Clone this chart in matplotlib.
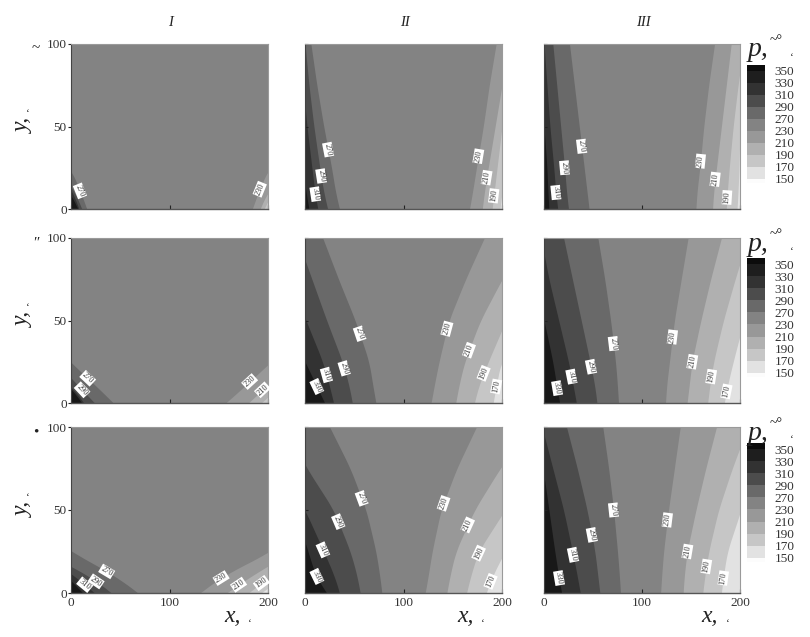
import matplotlib

matplotlib.use('Agg')
import matplotlib.pyplot as plt
import numpy as np

W, H = 810, 637

Y_READ = [0, 10, 25, 50, 75, 100]

LEFT_LEVELS = ['270', '290', '310', '330']
RIGHT_LEVELS = ['230', '210', '190', '170']

# each boundary: x at Y_READ. left ones run from 270 outwards, right from 230
A1_LEFT = [[16, 10, -1, -40, -80, -120], [11, 4, -12, -60, -100, -140], [8, 2, -14, -60, -100, -140], [7, -1, -20, -60, -100, -140]]
A1_LEFT_LABEL_Y = [11, None, None, None]
A1_RIGHT = [[184, 190, 201, 240, 280, 320], [192, 199, 220, 260, 300, 340], [196, 204, 225, 270, 310, 350]]
A1_RIGHT_LABEL_Y = [12, None, None]

A2_LEFT = [[35, 31, 27, 19, 12, 6], [23, 19, 15, 9, 4, 0], [13, 10, 7, 2, -2, -5], [4, 1, -2, -6, -10, -14]]
A2_LEFT_LABEL_Y = [36, 20, 9, None]
A2_RIGHT = [[167, 170, 174, 181, 187, 194], [180, 182, 186, 193, 200, 207], [190, 192, 195, 200, 205, 210], [198, 200, 203, 208, 213, 218]]
A2_RIGHT_LABEL_Y = [32, 19, 8, None]

A3_LEFT = [[46, 44, 41, 36, 31, 26], [25, 23, 21, 17, 13, 9], [14, 12, 10, 6, 3, 0], [5, 4, 3, 0, -3, -5]]
A3_LEFT_LABEL_Y = [38, 25, 10, None]
A3_RIGHT = [[155, 156, 159, 163, 168, 174], [172, 173, 176, 181, 186, 191], [186, 187, 189, 193, 198, 204], [197, 198, 199, 200, 201, 202]]
A3_RIGHT_LABEL_Y = [29, 18, 7, None]

B1_LEFT = [[43, 26, -1, -40, -80, -120], [24, 8, -15, -60, -100, -140], [13, 1, -30, -80, -120, -160], [11, -1, -30, -80, -120, -160]]
B1_LEFT_LABEL_Y = [15, 8, None, None]
B1_RIGHT = [[157, 176, 203, 250, 300, 350], [180, 198, 225, 270, 320, 370], [193, 212, 240, 290, 340, 390]]
B1_RIGHT_LABEL_Y = [13, 8, None]

B2_LEFT = [[72, 69, 65, 51, 34, 18], [48, 45, 38, 22, 7, -8], [29, 25, 18, 1, -15, -30], [20, 12, 0, -20, -40, -60]]
B2_LEFT_LABEL_Y = [42, 21, 17, 10]
B2_RIGHT = [[128, 131, 136, 146, 163, 182], [153, 156, 162, 178, 200, 225], [172, 176, 186, 204, 230, 255], [191, 194, 199, 225, 250, 275]]
B2_RIGHT_LABEL_Y = [45, 32, 18, 10]

B3_LEFT = [[76, 75, 73, 68, 62, 55], [54, 52, 47, 38, 29, 20], [33, 30, 25, 15, 5, -3], [16, 13, 9, 0, -8, -15]]
B3_LEFT_LABEL_Y = [36, 22, 16, 9]
B3_RIGHT = [[124, 125, 128, 133, 140, 147], [146, 148, 151, 160, 170, 181], [167, 169, 173, 183, 195, 208], [184, 187, 193, 204, 216, 228]]
B3_RIGHT_LABEL_Y = [40, 25, 16, 7]

C1_LEFT = [[68, 46, 0, -60, -120, -180], [41, 20, -30, -80, -130, -180], [24, 4, -30, -80, -130, -180], [12, -4, -30, -80, -130, -180]]
C1_LEFT_LABEL_Y = [13, 7, 5, None]
C1_RIGHT = [[131, 153, 203, 260, 320, 380], [158, 182, 225, 280, 340, 400], [180, 202, 240, 300, 360, 420], [193, 216, 250, 310, 370, 430]]
C1_RIGHT_LABEL_Y = [9, 5, 6, None]

C2_LEFT = [[78, 76, 72, 62, 46, 25], [56, 53, 46, 29, 2, -20], [35, 30, 19, 0, -25, -50], [22, 11, 3, -10, -30, -50]]
C2_LEFT_LABEL_Y = [57, 43, 26, 10]
C2_RIGHT = [[122, 125, 129, 138, 154, 174], [144, 147, 153, 172, 198, 228], [164, 168, 176, 203, 233, 263], [184, 190, 203, 230, 260, 290]]
C2_RIGHT_LABEL_Y = [54, 41, 24, 7]

C3_LEFT = [[78, 77, 75, 71, 66, 60], [57, 55, 52, 44, 34, 23], [37, 34, 29, 20, 9, -2], [18, 15, 11, 5, -1, -8]]
C3_LEFT_LABEL_Y = [50, 35, 23, 9]
C3_RIGHT = [[119, 120, 122, 127, 133, 139], [142, 143, 146, 155, 165, 176], [162, 164, 168, 178, 192, 208], [181, 183, 187, 201, 213, 225]]
C3_RIGHT_LABEL_Y = [44, 25, 16, 9]

# grey levels: middle band, then outwards on each side
MID_GREY = 131
LEFT_GREYS = [105, 76, 50, 24]
RIGHT_GREYS = [152, 176, 198, 226]

CBAR_LABELS = ['150', '170', '190', '210', '230', '270', '290', '310', '330', '350']
CBAR_GREYS = [252, 226, 198, 176, 152, 131, 105, 76, 50, 30, 12]

COL_X = [(71, 268), (305, 502), (544, 740)]
ROW_Y = [(44, 209), (238, 403), (427, 593)]
CBAR_Y = [(65, 183), (258, 377), (443, 562)]
COL_TITLES = ['I', 'II', 'III']
ROW_MARKS = ['~', '″', '•']
SERIF = 'Liberation Serif'

PANELS = [
    [(A1_LEFT, A1_LEFT_LABEL_Y, A1_RIGHT, A1_RIGHT_LABEL_Y),
     (A2_LEFT, A2_LEFT_LABEL_Y, A2_RIGHT, A2_RIGHT_LABEL_Y),
     (A3_LEFT, A3_LEFT_LABEL_Y, A3_RIGHT, A3_RIGHT_LABEL_Y)],
    [(B1_LEFT, B1_LEFT_LABEL_Y, B1_RIGHT, B1_RIGHT_LABEL_Y),
     (B2_LEFT, B2_LEFT_LABEL_Y, B2_RIGHT, B2_RIGHT_LABEL_Y),
     (B3_LEFT, B3_LEFT_LABEL_Y, B3_RIGHT, B3_RIGHT_LABEL_Y)],
    [(C1_LEFT, C1_LEFT_LABEL_Y, C1_RIGHT, C1_RIGHT_LABEL_Y),
     (C2_LEFT, C2_LEFT_LABEL_Y, C2_RIGHT, C2_RIGHT_LABEL_Y),
     (C3_LEFT, C3_LEFT_LABEL_Y, C3_RIGHT, C3_RIGHT_LABEL_Y)],
]

plt.rcParams['font.family'] = [SERIF, 'DejaVu Serif']

FINE_Y = np.arange(0, 100.5, 1.0)


def grey(v):
    return (v / 255, v / 255, v / 255)


def px_axes(fig, x0, x1, y0, y1):
    return fig.add_axes([x0 / W, 1 - y1 / H, (x1 - x0) / W, (y1 - y0) / H])


def put(fig, x, y, s, size, **kw):
    kw.setdefault('color', '#222222')
    fig.text(x / W, 1 - y / H, s, fontsize=size, ha='center', va='center', **kw)


def smooth_edge(bound, half=7):
    # round off the corners between read heights so the edge looks like a contour
    xs = np.interp(FINE_Y, Y_READ, bound)
    start = xs[0] + (xs[0] - xs[1]) * np.arange(half, 0, -1)
    end = xs[-1] + (xs[-1] - xs[-2]) * np.arange(1, half + 1)
    padded = np.concatenate([start, xs, end])
    return np.convolve(padded, np.ones(2 * half + 1) / (2 * half + 1), mode='valid')


def contour_label(ax, edge, y, text):
    x = np.interp(y, FINE_Y, edge)
    dxdy = (np.interp(y + 4, FINE_Y, edge) - np.interp(y - 4, FINE_Y, edge)) / 8
    # axes are 197 px by 200 units and 165 px by 100 units
    angle = np.degrees(np.arctan2(1.65, dxdy * 0.985))
    if angle > 90:
        angle -= 180
    ax.text(x, y, text, fontsize=6, color='#333333', rotation=angle,
            rotation_mode='anchor', ha='center', va='center',
            bbox=dict(facecolor='white', edgecolor='none', pad=0.6))


def draw_panel(ax, left, left_y, right, right_y):
    ax.set_facecolor(grey(MID_GREY))
    left_edges = [smooth_edge(b) for b in left]
    right_edges = [smooth_edge(b) for b in right]
    for edge, g in zip(left_edges, LEFT_GREYS):
        ax.fill_betweenx(FINE_Y, -400, edge, color=grey(g), lw=0)
    for edge, g in zip(right_edges, RIGHT_GREYS):
        ax.fill_betweenx(FINE_Y, edge, 600, color=grey(g), lw=0)
    for edge, y, text in zip(left_edges, left_y, LEFT_LEVELS):
        if y is not None:
            contour_label(ax, edge, y, text)
    for edge, y, text in zip(right_edges, right_y, RIGHT_LEVELS):
        if y is not None:
            contour_label(ax, edge, y, text)
    ax.set_xlim(0, 200)
    ax.set_ylim(0, 100)
    ax.spines['top'].set_color('#9a9a9a')
    ax.spines['right'].set_color('#9a9a9a')
    ax.spines['left'].set_color('#444444')
    ax.spines['bottom'].set_color('#555555')
    ax.spines['bottom'].set_linewidth(1.0)


def draw_cbar(fig, y0, y1):
    cax = px_axes(fig, 747, 765, y0, y1)
    edges = np.arange(len(CBAR_LABELS))
    lo, hi = -0.35, len(CBAR_LABELS) - 0.5
    bottoms = np.concatenate([[lo], edges])
    tops = np.concatenate([edges, [hi]])
    cax.bar(0.5, tops - bottoms, bottom=bottoms, width=1, color=[grey(g) for g in CBAR_GREYS])
    cax.set_xlim(0, 1)
    cax.set_ylim(lo, hi)
    cax.set_xticks([])
    cax.yaxis.tick_right()
    cax.set_yticks(edges, CBAR_LABELS, fontsize=9.5, color='#333333')
    cax.tick_params(axis='y', length=0, pad=7)
    for s in cax.spines.values():
        s.set_visible(False)


fig = plt.figure(figsize=(W / 100, H / 100), dpi=100)

for r, (y0, y1) in enumerate(ROW_Y):
    for c, (x0, x1) in enumerate(COL_X):
        ax = px_axes(fig, x0, x1, y0, y1)
        draw_panel(ax, *PANELS[r][c])
        ax.set_xticks([0, 100, 200])
        ax.set_yticks([0, 50, 100])
        ax.tick_params(axis='x', direction='in', length=3, width=0.8, color='#222222',
                       labelbottom=r == 2, labelsize=9.5, labelcolor='#333333', pad=3)
        ax.tick_params(axis='y', direction='out' if c == 0 else 'in', length=2, width=0.8,
                       color='#222222', labelleft=c == 0, labelsize=9.5,
                       labelcolor='#333333', pad=1)
    put(fig, 23, (y0 + y1) / 2 - 1, 'y,', 17, style='italic', rotation=90)
    put(fig, 28, (y0 + y1) / 2 - 13, '‘', 8)
    put(fig, 36, y0 + 5, ROW_MARKS[r], 11)
    draw_cbar(fig, *CBAR_Y[r])
    py = y0 + 6
    put(fig, 758, py, 'p,', 20, style='italic')
    put(fig, 776, py - 9, '~°', 10)
    put(fig, 792, py + 7, '‘', 8)

for (x0, x1), title in zip(COL_X, COL_TITLES):
    put(fig, (x0 + x1) / 2 + 1, 22, title, 10.5, style='italic')

for x, mark_x in [(232, 250), (465, 483), (709, 728)]:
    put(fig, x, 617, 'x,', 17, style='italic')
    put(fig, mark_x, 623, '‘', 8)

fig.savefig('out.png', dpi=100)
